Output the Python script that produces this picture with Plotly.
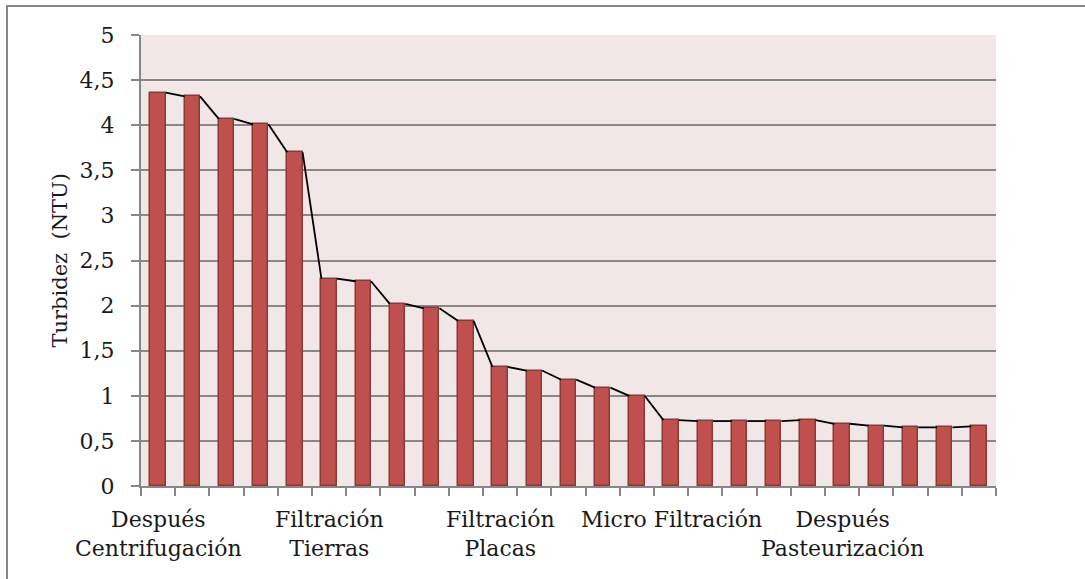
import plotly.graph_objects as go

# Turbidity measured along the process, 5 samples per stage
turbidez = [4.36, 4.32, 4.07, 4.01, 3.70,
            2.30, 2.27, 2.02, 1.97, 1.83,
            1.32, 1.28, 1.18, 1.09, 1.00,
            0.73, 0.72, 0.72, 0.72, 0.73,
            0.69, 0.67, 0.65, 0.65, 0.66]
etapas = ["Después<br>Centrifugación", "Filtración<br>Tierras", "Filtración<br>Placas",
          "Micro Filtración", "Después<br>Pasteurización"]
muestras_por_etapa = 5

n = len(turbidez)
xs = list(range(n))
bar_w = 0.45

W, H = 1085, 579
L, R, T, B = 141, 89, 35, 93
pw, ph = W - L - R, H - T - B
grid = "#878787"
font = "DejaVu Serif"
txt = "#1a1a1a"

fig = go.Figure()
fig.add_trace(go.Bar(
    x=xs, y=turbidez, width=bar_w,
    marker=dict(color="#C0504D", line=dict(color="#8C3836", width=1.5)),
    showlegend=False, hoverinfo="y",
))

# series lines joining the top of each bar to the next one
lx, ly = [], []
for i in range(n - 1):
    lx += [xs[i] + bar_w / 2, xs[i + 1] - bar_w / 2, None]
    ly += [turbidez[i], turbidez[i + 1], None]
fig.add_trace(go.Scatter(x=lx, y=ly, mode="lines",
                         line=dict(color="black", width=1.8),
                         showlegend=False, hoverinfo="skip"))

for k, nombre in enumerate(etapas):
    fig.add_annotation(x=k * muestras_por_etapa, y=0, xref="x", yref="paper",
                       yanchor="top", yshift=-19,
                       text=nombre, showarrow=False, align="center",
                       font=dict(family=font, size=22, color=txt))

fig.add_annotation(x=(59 - L) / pw, y=0.5, xref="paper", yref="paper",
                   text="Turbidez  (NTU)", textangle=-90, showarrow=False,
                   xanchor="center", yanchor="middle",
                   font=dict(family=font, size=21, color=txt))

# outer frame of the chart area
fig.add_shape(type="rect", xref="paper", yref="paper",
              x0=(7 - L) / pw, x1=1.3, y0=-0.4, y1=(H - B - 6) / ph,
              line=dict(color=grid, width=2), fillcolor="rgba(0,0,0,0)",
              layer="below")

fig.update_layout(
    width=W, height=H,
    margin=dict(l=L, r=R, t=T, b=B, pad=0),
    paper_bgcolor="white", plot_bgcolor="#F2E7E7",
    separators=",.",
    bargap=0,
    xaxis=dict(range=[-0.5, n - 0.5],
               tickmode="array", tickvals=[i - 0.5 for i in range(n + 1)],
               ticktext=[""] * (n + 1),
               ticks="outside", ticklen=8, tickwidth=2, tickcolor=grid,
               showline=True, linecolor=grid, linewidth=2,
               showgrid=False, zeroline=False, fixedrange=True),
    yaxis=dict(range=[0, 5], tickmode="linear", tick0=0, dtick=0.5,
               ticks="outside", ticklen=8, tickwidth=2, tickcolor=grid,
               showline=True, linecolor=grid, linewidth=2,
               showgrid=True, gridcolor=grid, gridwidth=2,
               zeroline=False, ticklabelstandoff=12,
               tickfont=dict(family=font, size=22, color=txt)),
)

fig.write_html("out.html")
